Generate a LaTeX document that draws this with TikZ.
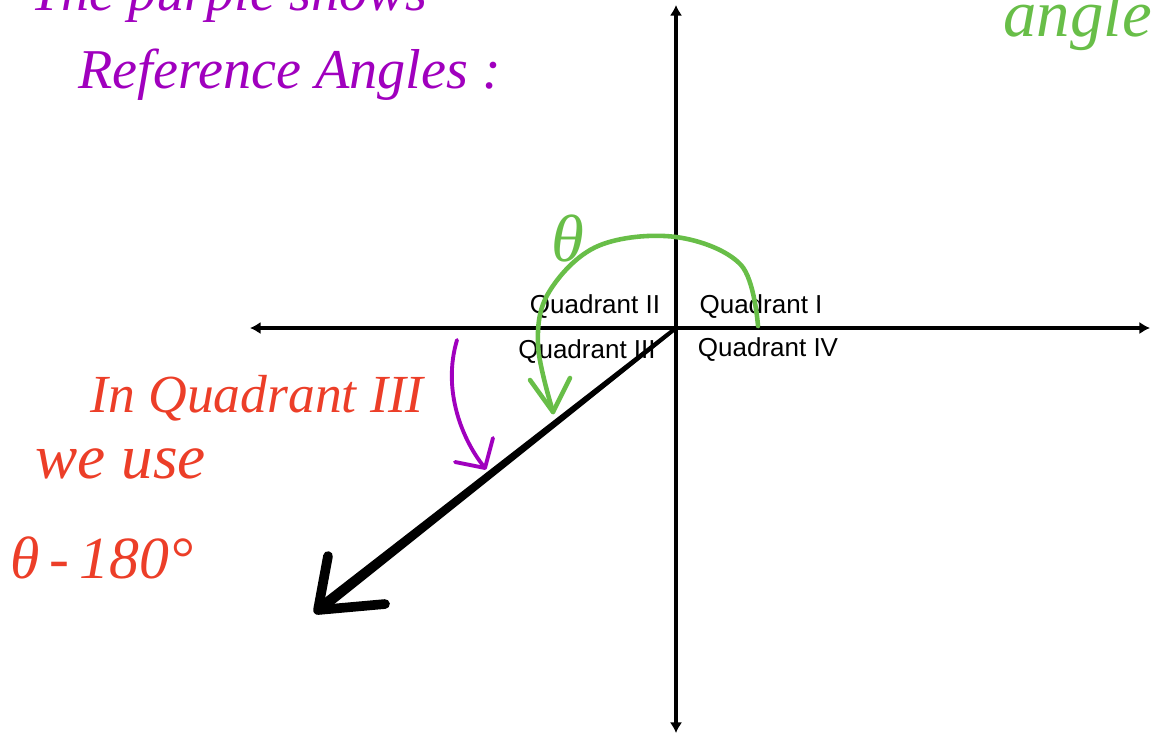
\documentclass[tikz,border=0pt]{standalone}
\usepackage{fontspec}
\setmainfont{Liberation Sans}
\newfontfamily\handfont{Liberation Serif}
\usetikzlibrary{arrows.meta}
\definecolor{penpurple}{RGB}{160,0,190}
\definecolor{pengreen}{RGB}{104,190,72}
\definecolor{penred}{RGB}{236,62,40}
\begin{document}
\begin{tikzpicture}[x=0.02cm,y=-0.02cm,
    axis/.style={line width=2.8pt, {Latex[length=6pt,width=7pt]}-{Latex[length=6pt,width=7pt]}},
    quad/.style={font=\fontsize{14.8}{17}\selectfont, inner sep=0pt},
    ink/.style={line width=#1, line cap=round, line join=round},
    note/.style={font=\handfont\itshape\fontsize{32}{36}\selectfont, inner sep=0pt, anchor=base west}]
    \useasboundingbox (0,0) rectangle (1151,735);
    \clip (0,0) rectangle (1151,735);

    % axes
    \coordinate (O) at (676,328);
    \coordinate (W) at (250,328);
    \coordinate (E) at (1150,328);
    \coordinate (N) at (676,5);
    \coordinate (S) at (676,733);
    \draw[axis] (W) -- (E);
    \draw[axis] (S) -- (N);

    % quadrant labels
    \node[quad] (q2) at (595,307) {Quadrant II};
    \node[quad] (q1) at (761,307) {Quadrant I};
    \node[quad] (q3) at (587,352) {Quadrant III};
    \node[quad] (q4) at (768,350) {Quadrant IV};

    % terminal side in quadrant III
    \coordinate (tip) at (318,610);
    \coordinate (barbA) at (328,556);
    \coordinate (barbB) at (385,604);
    \fill ([shift={(1.2,1.6)}]O) -- ([shift={(3.4,4.3)}]tip) -- ([shift={(-3.4,-4.3)}]tip)
        -- ([shift={(-1.2,-1.6)}]O) -- cycle;
    \draw[ink=5.5pt] (barbA) -- (tip) -- (barbB);

    % green angle theta
    \coordinate (gstart) at (758,326);
    \coordinate (gend) at (553,412);
    \draw[pengreen, ink=2.6pt] plot[smooth, tension=0.6] coordinates
        {(gstart) (741,265) (676,237) (598,246) (549,292) (538,345) (gend)};
    \draw[pengreen, ink=2.6pt] (530,380) -- (gend) -- (570,378);
    \node[note, text=pengreen, anchor=center, font=\handfont\itshape\fontsize{38}{40}\selectfont] (theta) at (568,238) {θ};

    % purple reference angle
    \coordinate (pstart) at (457,340);
    \coordinate (pend) at (485,468);
    \draw[penpurple, ink=2.2pt] (pstart) .. controls (442,390) and (462,440) .. (pend);
    \draw[penpurple, ink=2.2pt] (455,462) -- (pend) -- (493,438);

    % handwritten notes
    \node[note, text=penpurple] (purple1) at (30,10) {The purple shows};
    \node[note, text=penpurple] (purple2) at (78,88) {Reference Angles :};
    \node[note, text=pengreen, font=\handfont\itshape\fontsize{38}{40}\selectfont] (green1) at (1003,36) {angle};
    \node[note, text=penred, font=\handfont\itshape\fontsize{30.5}{36}\selectfont] (red1) at (90,412) {In Quadrant III};
    \node[note, text=penred, font=\handfont\itshape\fontsize{36}{40}\selectfont] (red2) at (35,478) {we use};
    \node[note, text=penred, font=\handfont\itshape\fontsize{34}{40}\selectfont] (red3) at (10,578) {θ\,-\,180°};
\end{tikzpicture}
\end{document}
